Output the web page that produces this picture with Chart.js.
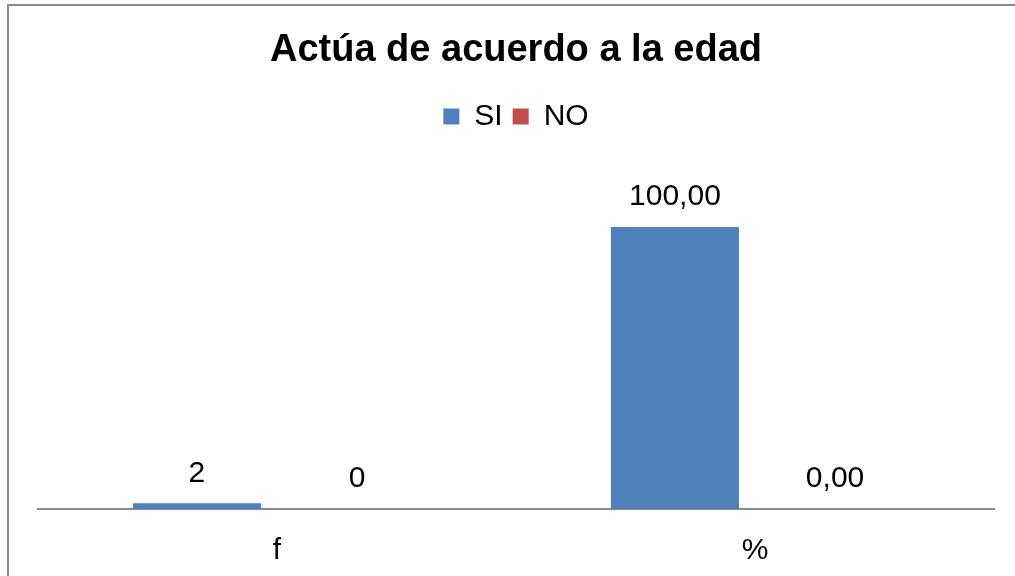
<!DOCTYPE html>
<html>
<head>
<meta charset="utf-8">
<script src="https://cdn.jsdelivr.net/npm/chart.js@4"></script>
<style>
  body { margin: 0; background: #fff; }
  canvas { display: block; }
</style>
</head>
<body>
<canvas id="myChart" width="1015" height="576"></canvas>
<script>
let categories = ['f', '%'];
let si_values = [2, 100];
let no_values = [0, 0];
let decimals = [0, 2]; // f is a count, % has two decimals

let font_family = '"Liberation Sans", Arial, sans-serif';

function formatValue (value, index) {
  return value.toFixed(decimals[index]).replace('.', ',');
}

// labels above each bar
const valueLabels = {
  id: 'valueLabels',
  afterDatasetsDraw(chart) {
    const ctx = chart.ctx;
    ctx.save();
    ctx.font = '30px ' + font_family;
    ctx.fillStyle = '#000';
    ctx.textAlign = 'center';
    ctx.textBaseline = 'middle';
    chart.data.datasets.forEach((ds, i) => {
      chart.getDatasetMeta(i).data.forEach((bar, j) => {
        ctx.fillText(formatValue(ds.data[j], j), bar.x, bar.y - 30);
      });
    });
    ctx.restore();
  }
};

// grey frame on top and left, like the cropped excel chart
const frame = {
  id: 'frame',
  beforeDraw(chart) {
    const ctx = chart.ctx;
    ctx.save();
    ctx.fillStyle = '#fff';
    ctx.fillRect(0, 0, chart.width, chart.height);
    ctx.strokeStyle = '#8a8a8a';
    ctx.lineWidth = 2;
    ctx.beginPath();
    ctx.moveTo(8, chart.height);
    ctx.lineTo(8, 5);
    ctx.lineTo(chart.width, 5);
    ctx.stroke();
    ctx.restore();
  }
};

// more room under the legend
const legendGap = {
  id: 'legendGap',
  beforeInit(chart) {
    const fit = chart.legend.fit;
    chart.legend.fit = function () {
      fit.bind(chart.legend)();
      this.height += 29;
    };
  }
};

let myChart = new Chart(document.getElementById('myChart'), {
  type: 'bar',
  data: {
    labels: categories,
    datasets: [
      {
        label: 'SI',
        data: si_values,
        backgroundColor: '#4F81BD',
        categoryPercentage: 0.67,
        barPercentage: 0.8
      },
      {
        label: 'NO',
        data: no_values,
        backgroundColor: '#C0504D',
        categoryPercentage: 0.67,
        barPercentage: 0.8
      }
    ]
  },
  options: {
    responsive: false,
    animation: false,
    devicePixelRatio: 1,
    layout: {
      padding: { left: 38, right: 21, top: 0, bottom: -17 }
    },
    plugins: {
      title: {
        display: true,
        text: 'Actúa de acuerdo a la edad',
        color: '#000',
        font: { family: font_family, size: 38, weight: 'bold' },
        padding: { top: 28, bottom: 18 }
      },
      legend: {
        display: true,
        labels: {
          color: '#000',
          font: { family: font_family, size: 30 },
          boxWidth: 16,
          boxHeight: 16,
          padding: 10
        }
      },
      tooltip: { enabled: false }
    },
    scales: {
      x: {
        grid: { display: false, drawTicks: false },
        border: { display: true, color: '#8a8a8a', width: 2 },
        ticks: {
          color: '#000',
          font: { family: font_family, size: 30 },
          padding: 24
        }
      },
      y: {
        display: false,
        min: 0,
        max: 120
      }
    }
  },
  plugins: [valueLabels, frame, legendGap]
});
</script>
</body>
</html>
